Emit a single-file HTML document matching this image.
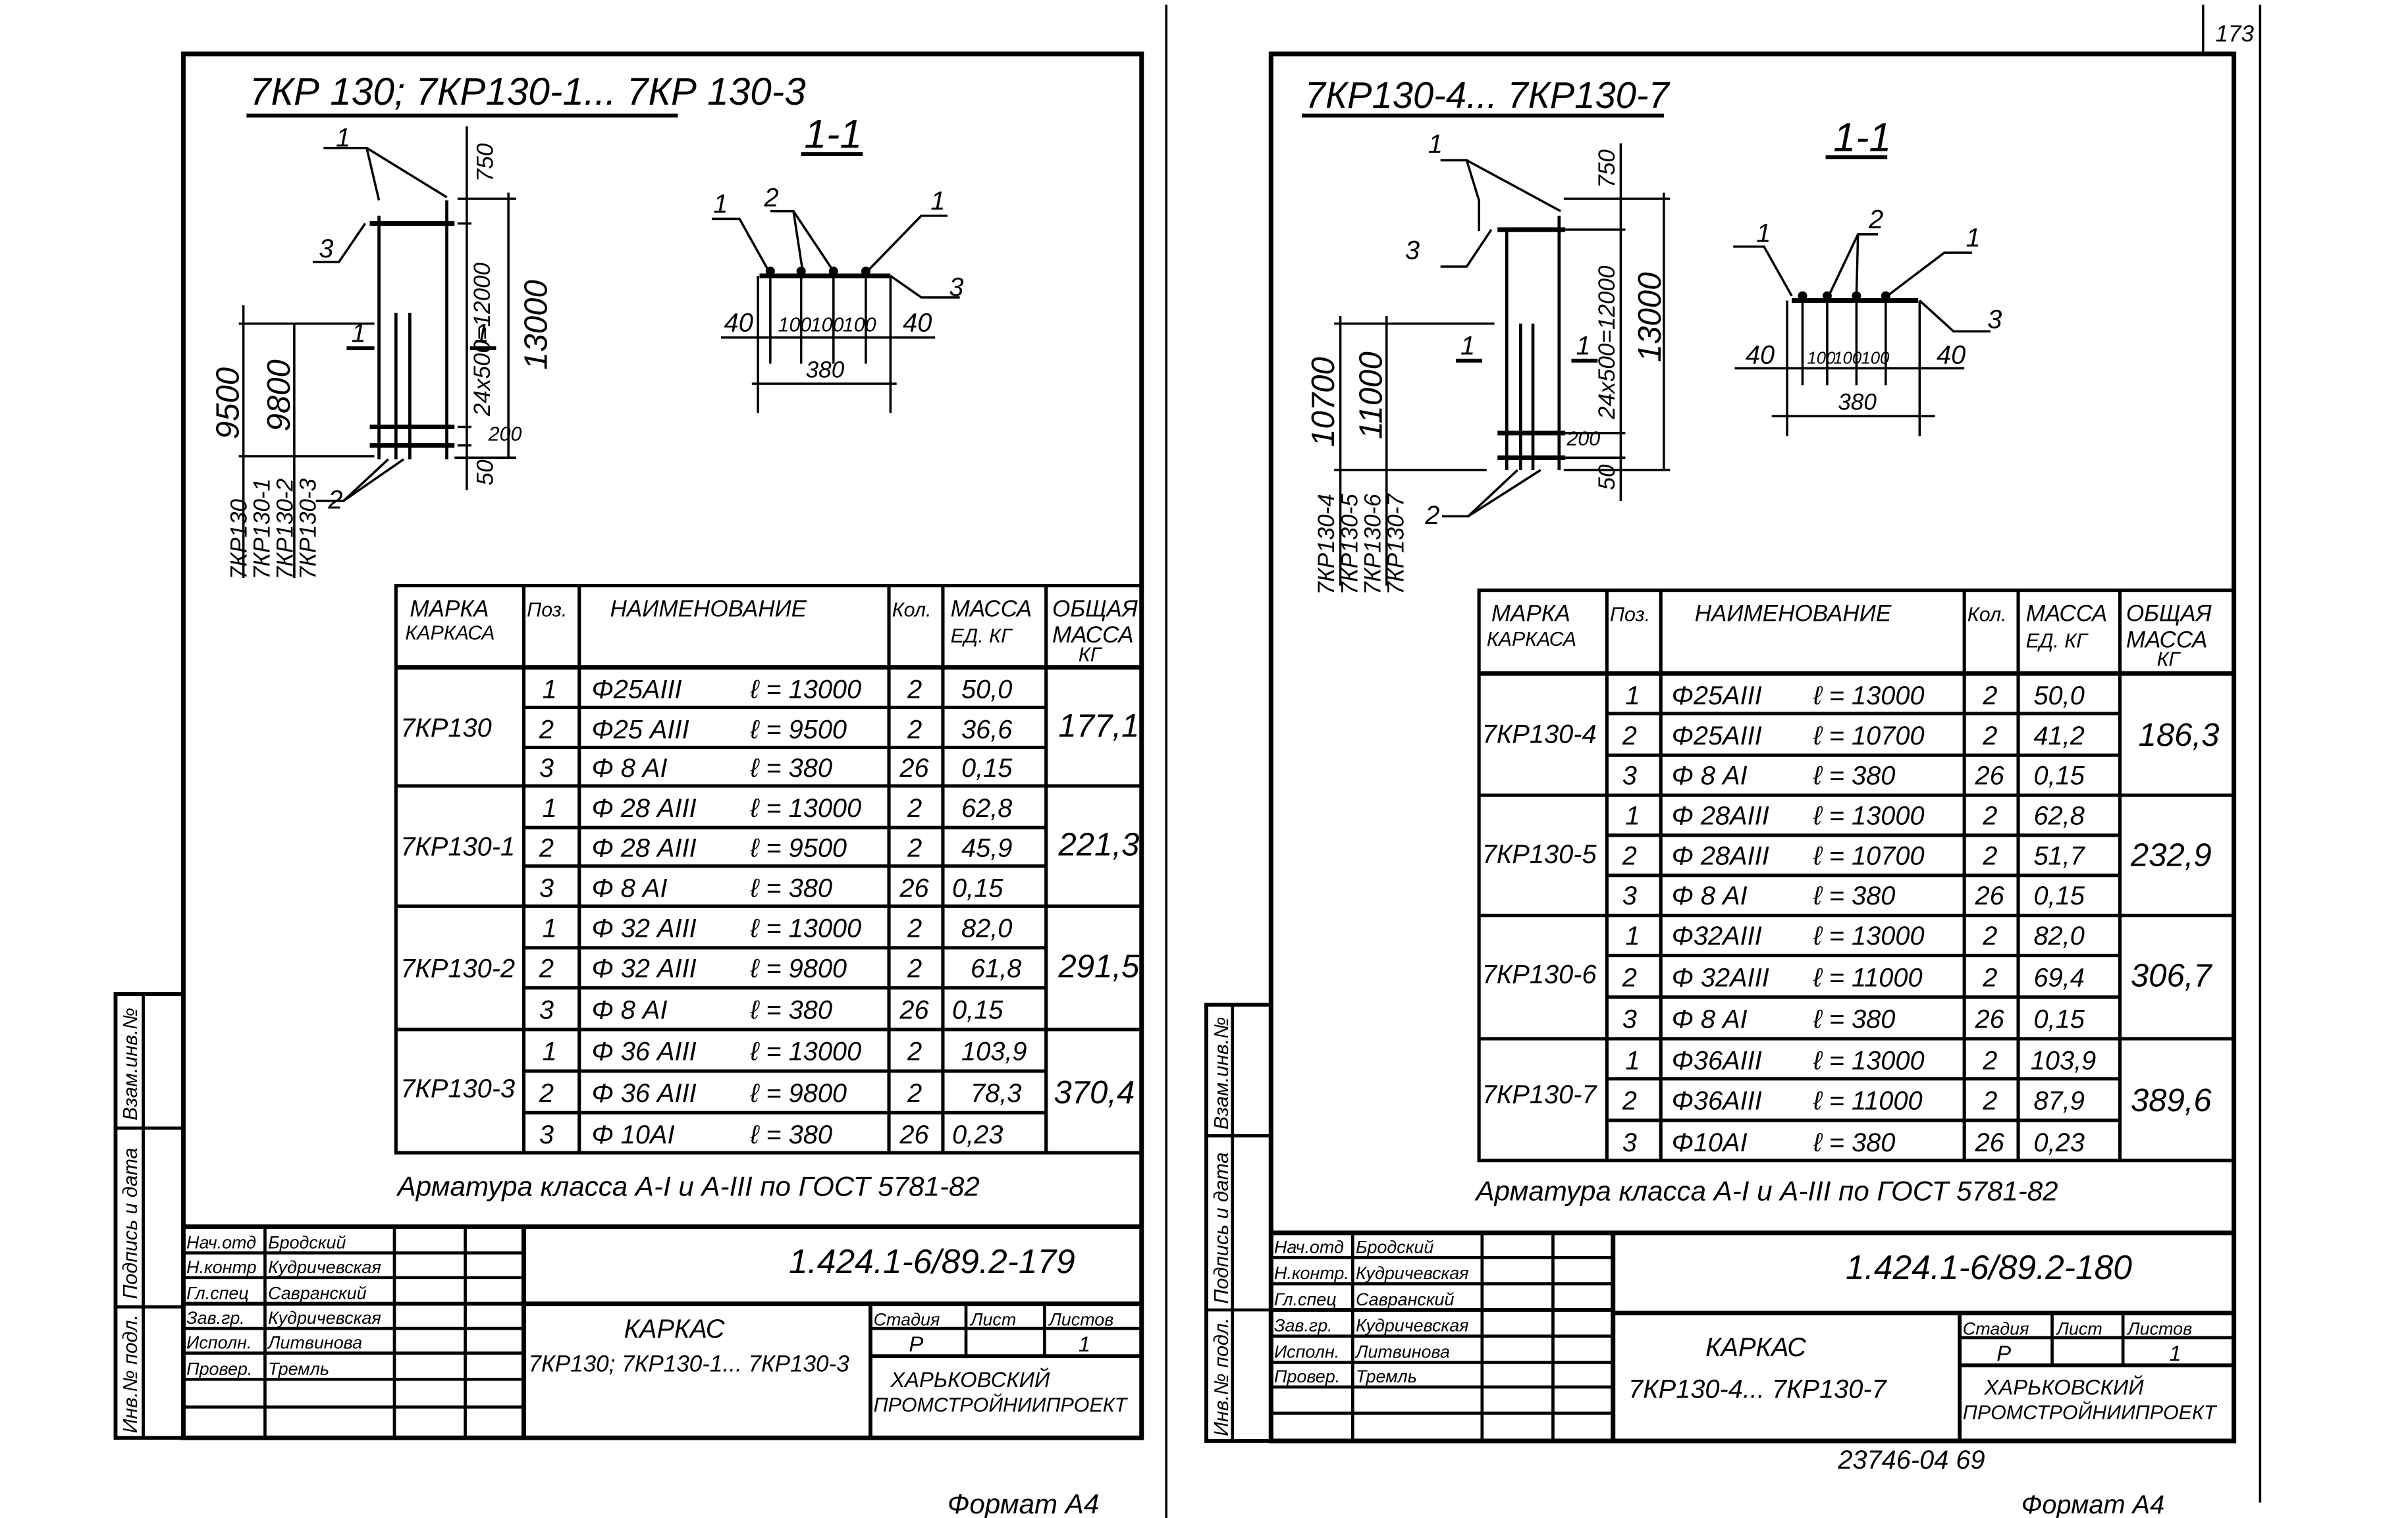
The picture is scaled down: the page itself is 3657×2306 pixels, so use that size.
<!DOCTYPE html>
<html><head><meta charset="utf-8">
<style>
html,body{margin:0;padding:0;background:#fff;}
svg{display:block;}
text{font-family:"Liberation Sans","DejaVu Sans",sans-serif;font-style:italic;fill:#000;}
.t{font-size:17px;}
.s{font-size:13px;}
.m{font-size:15px;}
.h{font-size:15px;}
.b{font-size:21px;}
</style></head>
<body>
<svg width="3657" height="2306" viewBox="0 0 1563 985" preserveAspectRatio="none" xmlns="http://www.w3.org/2000/svg">
<rect x="0" y="0" width="1563" height="985" fill="#fff"/>
<g stroke="#000" fill="none">
<line x1="757" y1="3" x2="757" y2="985" stroke-width="1.5"/>
<line x1="1467" y1="3" x2="1467" y2="975" stroke-width="1.5"/>
<line x1="1430" y1="3" x2="1430" y2="35" stroke-width="1.5"/>

<rect x="119" y="35" width="622" height="898" stroke-width="3"/>
<rect x="75" y="645" width="44" height="288" stroke-width="2.5"/>
<line x1="93" y1="645" x2="93" y2="933" stroke-width="2"/>
<line x1="75" y1="732" x2="119" y2="732" stroke-width="2"/>
<line x1="75" y1="848" x2="119" y2="848" stroke-width="2"/>

<rect x="825" y="35" width="625" height="900" stroke-width="3"/>
<rect x="783" y="652" width="42" height="283" stroke-width="2.5"/>
<line x1="800" y1="652" x2="800" y2="935" stroke-width="2"/>
<line x1="783" y1="737" x2="825" y2="737" stroke-width="2"/>
<line x1="783" y1="850" x2="825" y2="850" stroke-width="2"/>

<g stroke-width="2.2">
<rect x="257" y="380" width="484" height="368"/>
<line x1="257" y1="433" x2="741" y2="433" stroke-width="3"/>
<line x1="340" y1="380" x2="340" y2="748"/>
<line x1="376" y1="380" x2="376" y2="748"/>
<line x1="577" y1="380" x2="577" y2="748"/>
<line x1="612" y1="380" x2="612" y2="748"/>
<line x1="679" y1="380" x2="679" y2="748"/>
<line x1="340" y1="459" x2="679" y2="459"/><line x1="340" y1="485" x2="679" y2="485"/>
<line x1="257" y1="510" x2="741" y2="510"/>
<line x1="340" y1="537" x2="679" y2="537"/><line x1="340" y1="562" x2="679" y2="562"/>
<line x1="257" y1="588" x2="741" y2="588"/>
<line x1="340" y1="615" x2="679" y2="615"/><line x1="340" y1="641" x2="679" y2="641"/>
<line x1="257" y1="668" x2="741" y2="668"/>
<line x1="340" y1="695" x2="679" y2="695"/><line x1="340" y1="722" x2="679" y2="722"/>
</g>

<g stroke-width="2.2">
<rect x="960" y="383" width="490" height="370"/>
<line x1="960" y1="437" x2="1450" y2="437" stroke-width="3"/>
<line x1="1043" y1="383" x2="1043" y2="753"/>
<line x1="1078" y1="383" x2="1078" y2="753"/>
<line x1="1275" y1="383" x2="1275" y2="753"/>
<line x1="1310" y1="383" x2="1310" y2="753"/>
<line x1="1376" y1="383" x2="1376" y2="753"/>
<line x1="1043" y1="463" x2="1376" y2="463"/><line x1="1043" y1="490" x2="1376" y2="490"/>
<line x1="960" y1="516" x2="1450" y2="516"/>
<line x1="1043" y1="542" x2="1376" y2="542"/><line x1="1043" y1="568" x2="1376" y2="568"/>
<line x1="960" y1="594" x2="1450" y2="594"/>
<line x1="1043" y1="620" x2="1376" y2="620"/><line x1="1043" y1="647" x2="1376" y2="647"/>
<line x1="960" y1="674" x2="1450" y2="674"/>
<line x1="1043" y1="700" x2="1376" y2="700"/><line x1="1043" y1="727" x2="1376" y2="727"/>
</g>

<g stroke-width="2">
<line x1="119" y1="796" x2="741" y2="796" stroke-width="3"/>
<line x1="340" y1="846" x2="741" y2="846" stroke-width="3"/>
<line x1="119" y1="846" x2="340" y2="846" stroke-width="2.5"/>
<line x1="172" y1="796" x2="172" y2="933"/>
<line x1="256" y1="796" x2="256" y2="933"/>
<line x1="302" y1="796" x2="302" y2="933"/>
<line x1="340" y1="796" x2="340" y2="933" stroke-width="3"/>
<line x1="119" y1="813" x2="340" y2="813"/><line x1="119" y1="829" x2="340" y2="829"/>
<line x1="119" y1="862" x2="340" y2="862"/><line x1="119" y1="878" x2="340" y2="878"/>
<line x1="119" y1="895" x2="340" y2="895"/><line x1="119" y1="913" x2="340" y2="913"/>
<line x1="565" y1="846" x2="565" y2="933" stroke-width="2.5"/>
<line x1="565" y1="862" x2="741" y2="862"/>
<line x1="565" y1="880" x2="741" y2="880" stroke-width="2.5"/>
<line x1="627" y1="846" x2="627" y2="880"/>
<line x1="678" y1="846" x2="678" y2="880"/>
</g>

<g stroke-width="2">
<line x1="825" y1="800" x2="1450" y2="800" stroke-width="3"/>
<line x1="1047" y1="852" x2="1450" y2="852" stroke-width="3"/>
<line x1="825" y1="850" x2="1047" y2="850" stroke-width="2.5"/>
<line x1="878" y1="800" x2="878" y2="935"/>
<line x1="962" y1="800" x2="962" y2="935"/>
<line x1="1008" y1="800" x2="1008" y2="935"/>
<line x1="1047" y1="800" x2="1047" y2="935" stroke-width="3"/>
<line x1="825" y1="816" x2="1047" y2="816"/><line x1="825" y1="833" x2="1047" y2="833"/>
<line x1="825" y1="867" x2="1047" y2="867"/><line x1="825" y1="884" x2="1047" y2="884"/>
<line x1="825" y1="900" x2="1047" y2="900"/><line x1="825" y1="917" x2="1047" y2="917"/>
<line x1="1272" y1="852" x2="1272" y2="935" stroke-width="2.5"/>
<line x1="1272" y1="868" x2="1450" y2="868"/>
<line x1="1272" y1="886" x2="1450" y2="886" stroke-width="2.5"/>
<line x1="1332" y1="852" x2="1332" y2="886"/>
<line x1="1378" y1="852" x2="1378" y2="886"/>
</g>

<g stroke-width="1.5">
<line x1="160" y1="75" x2="440" y2="75" stroke-width="2.5"/>
<line x1="520" y1="100" x2="560" y2="100" stroke-width="2.5"/>
<line x1="246" y1="140" x2="246" y2="298" stroke-width="2"/>
<line x1="290" y1="130" x2="290" y2="298" stroke-width="2"/>
<line x1="257" y1="203" x2="257" y2="298" stroke-width="2"/>
<line x1="266" y1="203" x2="266" y2="298" stroke-width="2"/>
<line x1="240" y1="145" x2="295" y2="145" stroke-width="3"/>
<line x1="240" y1="277" x2="295" y2="277" stroke-width="3"/>
<line x1="240" y1="289" x2="295" y2="289" stroke-width="3"/>
<polyline points="210,96 238,96 246,130"/><line x1="238" y1="96" x2="290" y2="128"/>
<polyline points="203,170 220,170 237,145"/>
<polyline points="205,325 223,325 252,298"/><line x1="223" y1="325" x2="262" y2="298"/>
<line x1="225" y1="226" x2="243" y2="226" stroke-width="2.5"/>
<line x1="305" y1="226" x2="322" y2="226" stroke-width="2.5"/>
<line x1="303" y1="82" x2="303" y2="318"/>
<line x1="330" y1="125" x2="330" y2="297"/>
<line x1="297" y1="129" x2="335" y2="129"/>
<line x1="297" y1="145" x2="306" y2="145"/>
<line x1="297" y1="277" x2="306" y2="277"/>
<line x1="297" y1="289" x2="306" y2="289"/>
<line x1="295" y1="297" x2="335" y2="297"/>
<line x1="158" y1="198" x2="158" y2="375"/>
<line x1="191" y1="210" x2="191" y2="375"/>
<line x1="155" y1="210" x2="243" y2="210"/>
<line x1="155" y1="296" x2="243" y2="296"/>
<line x1="493" y1="179" x2="578" y2="179" stroke-width="3"/>
<line x1="500" y1="179" x2="500" y2="236"/><line x1="520" y1="179" x2="520" y2="236"/>
<line x1="541" y1="179" x2="541" y2="236"/><line x1="562" y1="179" x2="562" y2="236"/>
<line x1="492" y1="179" x2="492" y2="268"/><line x1="578" y1="179" x2="578" y2="268"/>
<line x1="468" y1="219" x2="607" y2="219"/>
<line x1="488" y1="249" x2="582" y2="249"/>
<polyline points="462,142 480,142 499,176"/>
<polyline points="500,137 515,137 521,176"/><line x1="515" y1="137" x2="541" y2="176"/>
<polyline points="615,140 598,140 563,176"/>
<polyline points="578,179 598,193 623,193"/>
</g>
<g fill="#000">
<circle cx="500" cy="176" r="2.5"/><circle cx="520" cy="176" r="2.5"/><circle cx="541" cy="176" r="2.5"/><circle cx="562" cy="176" r="2.5"/>
</g>

<g stroke-width="1.5">
<line x1="845" y1="75" x2="1080" y2="75" stroke-width="2.5"/>
<line x1="1185" y1="102" x2="1225" y2="102" stroke-width="2.5"/>
<line x1="978" y1="150" x2="978" y2="305" stroke-width="2"/>
<line x1="1012" y1="140" x2="1012" y2="305" stroke-width="2"/>
<line x1="987" y1="210" x2="987" y2="305" stroke-width="2"/>
<line x1="995" y1="210" x2="995" y2="305" stroke-width="2"/>
<line x1="972" y1="149" x2="1016" y2="149" stroke-width="3"/>
<line x1="972" y1="281" x2="1016" y2="281" stroke-width="3"/>
<line x1="972" y1="297" x2="1016" y2="297" stroke-width="3"/>
<polyline points="935,104 952,104 960,130 960,150"/><line x1="952" y1="104" x2="1013" y2="137"/>
<polyline points="935,173 952,173 968,149"/>
<polyline points="936,335 953,335 985,305"/><line x1="953" y1="335" x2="1000" y2="305"/>
<line x1="945" y1="234" x2="962" y2="234" stroke-width="2.5"/>
<line x1="1020" y1="234" x2="1037" y2="234" stroke-width="2.5"/>
<line x1="1052" y1="93" x2="1052" y2="325"/>
<line x1="1080" y1="125" x2="1080" y2="305"/>
<line x1="1015" y1="129" x2="1084" y2="129"/>
<line x1="1015" y1="149" x2="1055" y2="149"/>
<line x1="1015" y1="281" x2="1055" y2="281"/>
<line x1="1015" y1="297" x2="1055" y2="297"/>
<line x1="1015" y1="305" x2="1084" y2="305"/>
<line x1="870" y1="205" x2="870" y2="380"/>
<line x1="900" y1="205" x2="900" y2="380"/>
<line x1="866" y1="210" x2="970" y2="210"/>
<line x1="866" y1="305" x2="965" y2="305"/>
<line x1="1163" y1="195" x2="1245" y2="195" stroke-width="3"/>
<line x1="1170" y1="195" x2="1170" y2="250"/><line x1="1186" y1="195" x2="1186" y2="250"/>
<line x1="1205" y1="195" x2="1205" y2="250"/><line x1="1224" y1="195" x2="1224" y2="250"/>
<line x1="1160" y1="195" x2="1160" y2="283"/><line x1="1246" y1="195" x2="1246" y2="283"/>
<line x1="1126" y1="239" x2="1275" y2="239"/>
<line x1="1150" y1="270" x2="1256" y2="270"/>
<polyline points="1125,160 1145,160 1163,192"/>
<polyline points="1219,152 1206,152 1187,192"/><line x1="1206" y1="152" x2="1205" y2="192"/>
<polyline points="1280,164 1262,164 1225,192"/>
<polyline points="1246,195 1268,215 1292,215"/>
</g>
<g fill="#000">
<circle cx="1170" cy="192" r="2.5"/><circle cx="1186" cy="192" r="2.5"/><circle cx="1205" cy="192" r="2.5"/><circle cx="1224" cy="192" r="2.5"/>
</g>
</g>

<text x="162" y="68" font-size="25">7КР 130; 7КР130-1... 7КР 130-3</text>
<text x="522" y="96" font-size="26">1-1</text>
<text x="218" y="95" class="t">1</text>
<text x="207" y="167" class="t">3</text>
<text x="213" y="330" class="t">2</text>
<text x="228" y="222" class="t">1</text>
<text x="308" y="222" class="t">1</text>
<text class="h" transform="translate(320,118) rotate(-90)">750</text>
<text class="h" transform="translate(318,270) rotate(-90)">24x500=12000</text>
<text class="h" transform="translate(320,315) rotate(-90)">50</text>
<text x="317" y="286" class="s">200</text>
<text class="b" transform="translate(355,240) rotate(-90)">13000</text>
<text class="b" transform="translate(155,285) rotate(-90)">9500</text>
<text class="b" transform="translate(188,280) rotate(-90)">9800</text>
<text class="m" transform="translate(160,376) rotate(-90)">7КР130</text>
<text class="m" transform="translate(175,376) rotate(-90)">7КР130-1</text>
<text class="m" transform="translate(190,376) rotate(-90)">7КР130-2</text>
<text class="m" transform="translate(205,376) rotate(-90)">7КР130-3</text>
<text x="463" y="138" class="t">1</text>
<text x="496" y="134" class="t">2</text>
<text x="604" y="136" class="t">1</text>
<text x="616" y="192" class="t">3</text>
<text x="470" y="215" class="t">40</text>
<text x="505" y="215" font-size="13">100</text>
<text x="526" y="215" font-size="13">100</text>
<text x="547" y="215" font-size="13">100</text>
<text x="586" y="215" class="t">40</text>
<text x="523" y="245" class="h">380</text>

<text x="266" y="400" class="h">МАРКА</text>
<text x="263" y="415" class="s">КАРКАСА</text>
<text x="342" y="400" class="s">Поз.</text>
<text x="396" y="400" class="h">НАИМЕНОВАНИЕ</text>
<text x="579" y="400" class="s">Кол.</text>
<text x="617" y="400" class="h">МАССА</text>
<text x="617" y="417" class="s">ЕД. КГ</text>
<text x="683" y="400" class="h">ОБЩАЯ</text>
<text x="683" y="417" class="h">МАССА</text>
<text x="700" y="429" class="s">КГ</text>
<text x="260" y="478" class="t">7КР130</text>
<text x="260" y="555" class="t">7КР130-1</text>
<text x="260" y="634" class="t">7КР130-2</text>
<text x="260" y="712" class="t">7КР130-3</text>
<text x="687" y="478" class="b">177,1</text>
<text x="687" y="555" class="b">221,3</text>
<text x="687" y="634" class="b">291,5</text>
<text x="684" y="716" class="b">370,4</text>
<g>
<text x="352" y="453" class="t">1</text><text x="384" y="453" class="t">Φ25AIII</text><text x="487" y="453" class="t">ℓ = 13000</text><text x="589" y="453" class="t">2</text><text x="624" y="453" class="t">50,0</text>
<text x="350" y="479" class="t">2</text><text x="384" y="479" class="t">Φ25 AIII</text><text x="487" y="479" class="t">ℓ =  9500</text><text x="589" y="479" class="t">2</text><text x="624" y="479" class="t">36,6</text>
<text x="350" y="504" class="t">3</text><text x="384" y="504" class="t">Φ 8 AI</text><text x="487" y="504" class="t">ℓ = 380</text><text x="584" y="504" class="t">26</text><text x="624" y="504" class="t">0,15</text>
<text x="352" y="530" class="t">1</text><text x="384" y="530" class="t">Φ 28 AIII</text><text x="487" y="530" class="t">ℓ = 13000</text><text x="589" y="530" class="t">2</text><text x="624" y="530" class="t">62,8</text>
<text x="350" y="556" class="t">2</text><text x="384" y="556" class="t">Φ 28 AIII</text><text x="487" y="556" class="t">ℓ = 9500</text><text x="589" y="556" class="t">2</text><text x="624" y="556" class="t">45,9</text>
<text x="350" y="582" class="t">3</text><text x="384" y="582" class="t">Φ 8 AI</text><text x="487" y="582" class="t">ℓ = 380</text><text x="584" y="582" class="t">26</text><text x="618" y="582" class="t">0,15</text>
<text x="352" y="608" class="t">1</text><text x="384" y="608" class="t">Φ 32 AIII</text><text x="487" y="608" class="t">ℓ = 13000</text><text x="589" y="608" class="t">2</text><text x="624" y="608" class="t">82,0</text>
<text x="350" y="634" class="t">2</text><text x="384" y="634" class="t">Φ 32 AIII</text><text x="487" y="634" class="t">ℓ = 9800</text><text x="589" y="634" class="t">2</text><text x="630" y="634" class="t">61,8</text>
<text x="350" y="661" class="t">3</text><text x="384" y="661" class="t">Φ 8 AI</text><text x="487" y="661" class="t">ℓ = 380</text><text x="584" y="661" class="t">26</text><text x="618" y="661" class="t">0,15</text>
<text x="352" y="688" class="t">1</text><text x="384" y="688" class="t">Φ 36 AIII</text><text x="487" y="688" class="t">ℓ = 13000</text><text x="589" y="688" class="t">2</text><text x="624" y="688" class="t">103,9</text>
<text x="350" y="715" class="t">2</text><text x="384" y="715" class="t">Φ 36 AIII</text><text x="487" y="715" class="t">ℓ = 9800</text><text x="589" y="715" class="t">2</text><text x="630" y="715" class="t">78,3</text>
<text x="350" y="742" class="t">3</text><text x="384" y="742" class="t">Φ 10AI</text><text x="487" y="742" class="t">ℓ = 380</text><text x="584" y="742" class="t">26</text><text x="618" y="742" class="t">0,23</text>
</g>
<text x="258" y="776" font-size="18">Арматура  класса  А-I и А-III  по  ГОСТ 5781-82</text>
<g font-size="11.5">
<text x="121" y="810">Нач.отд</text><text x="174" y="810">Бродский</text>
<text x="121" y="826">Н.контр</text><text x="174" y="826">Кудричевская</text>
<text x="121" y="843">Гл.спец</text><text x="174" y="843">Савранский</text>
<text x="121" y="859">Зав.гр.</text><text x="174" y="859">Кудричевская</text>
<text x="121" y="875">Исполн.</text><text x="174" y="875">Литвинова</text>
<text x="121" y="892">Провер.</text><text x="174" y="892">Тремль</text>
<text x="567" y="860">Стадия</text><text x="630" y="860">Лист</text><text x="681" y="860">Листов</text>
</g>
<text x="590" y="877" font-size="14">Р</text><text x="700" y="877" font-size="14">1</text>
<text x="512" y="826" font-size="22">1.424.1-6/89.2-179</text>
<text x="405" y="868" font-size="17">КАРКАС</text>
<text x="343" y="890" font-size="15">7КР130; 7КР130-1... 7КР130-3</text>
<text x="578" y="900" font-size="14">ХАРЬКОВСКИЙ</text>
<text x="567" y="916" font-size="13">ПРОМСТРОЙНИИПРОЕКТ</text>
<text class="s" transform="translate(89,727) rotate(-90)">Взам.инв.№</text>
<text class="s" transform="translate(89,843) rotate(-90)">Подпись и дата</text>
<text class="s" transform="translate(89,930) rotate(-90)">Инв.№ подл.</text>
<text x="615" y="982" font-size="18">Формат А4</text>

<text x="1438" y="27" font-size="15">173</text>
<text x="847" y="70" font-size="24">7КР130-4... 7КР130-7</text>
<text x="1190" y="98" font-size="26">1-1</text>
<text x="927" y="99" class="t">1</text>
<text x="912" y="168" class="t">3</text>
<text x="925" y="340" class="t">2</text>
<text x="948" y="230" class="t">1</text>
<text x="1023" y="230" class="t">1</text>
<text class="h" transform="translate(1048,122) rotate(-90)">750</text>
<text class="h" transform="translate(1048,272) rotate(-90)">24x500=12000</text>
<text class="h" transform="translate(1048,318) rotate(-90)">50</text>
<text x="1017" y="289" class="s">200</text>
<text class="b" transform="translate(1078,235) rotate(-90)">13000</text>
<text class="b" transform="translate(866,290) rotate(-90)">10700</text>
<text class="b" transform="translate(897,285) rotate(-90)">11000</text>
<text class="m" transform="translate(866,386) rotate(-90)">7КР130-4</text>
<text class="m" transform="translate(881,386) rotate(-90)">7КР130-5</text>
<text class="m" transform="translate(896,386) rotate(-90)">7КР130-6</text>
<text class="m" transform="translate(911,386) rotate(-90)">7КР130-7</text>
<text x="1140" y="157" class="t">1</text>
<text x="1213" y="148" class="t">2</text>
<text x="1276" y="160" class="t">1</text>
<text x="1290" y="213" class="t">3</text>
<text x="1133" y="236" class="t">40</text>
<text x="1173" y="236" font-size="11">100</text>
<text x="1190" y="236" font-size="11">100</text>
<text x="1208" y="236" font-size="11">100</text>
<text x="1257" y="236" class="t">40</text>
<text x="1193" y="266" class="h">380</text>

<text x="968" y="403" class="h">МАРКА</text>
<text x="965" y="419" class="s">КАРКАСА</text>
<text x="1045" y="403" class="s">Поз.</text>
<text x="1100" y="403" class="h">НАИМЕНОВАНИЕ</text>
<text x="1277" y="403" class="s">Кол.</text>
<text x="1315" y="403" class="h">МАССА</text>
<text x="1315" y="420" class="s">ЕД. КГ</text>
<text x="1380" y="403" class="h">ОБЩАЯ</text>
<text x="1380" y="420" class="h">МАССА</text>
<text x="1400" y="432" class="s">КГ</text>
<text x="962" y="482" class="t">7КР130-4</text>
<text x="962" y="560" class="t">7КР130-5</text>
<text x="962" y="638" class="t">7КР130-6</text>
<text x="962" y="716" class="t">7КР130-7</text>
<text x="1388" y="484" class="b">186,3</text>
<text x="1383" y="562" class="b">232,9</text>
<text x="1383" y="640" class="b">306,7</text>
<text x="1383" y="721" class="b">389,6</text>
<g>
<text x="1055" y="457" class="t">1</text><text x="1085" y="457" class="t">Φ25AIII</text><text x="1177" y="457" class="t">ℓ = 13000</text><text x="1287" y="457" class="t">2</text><text x="1320" y="457" class="t">50,0</text>
<text x="1053" y="483" class="t">2</text><text x="1085" y="483" class="t">Φ25AIII</text><text x="1177" y="483" class="t">ℓ = 10700</text><text x="1287" y="483" class="t">2</text><text x="1320" y="483" class="t">41,2</text>
<text x="1053" y="509" class="t">3</text><text x="1085" y="509" class="t">Φ 8 AI</text><text x="1177" y="509" class="t">ℓ = 380</text><text x="1282" y="509" class="t">26</text><text x="1320" y="509" class="t">0,15</text>
<text x="1055" y="535" class="t">1</text><text x="1085" y="535" class="t">Φ 28AIII</text><text x="1177" y="535" class="t">ℓ = 13000</text><text x="1287" y="535" class="t">2</text><text x="1320" y="535" class="t">62,8</text>
<text x="1053" y="561" class="t">2</text><text x="1085" y="561" class="t">Φ 28AIII</text><text x="1177" y="561" class="t">ℓ = 10700</text><text x="1287" y="561" class="t">2</text><text x="1320" y="561" class="t">51,7</text>
<text x="1053" y="587" class="t">3</text><text x="1085" y="587" class="t">Φ 8 AI</text><text x="1177" y="587" class="t">ℓ = 380</text><text x="1282" y="587" class="t">26</text><text x="1320" y="587" class="t">0,15</text>
<text x="1055" y="613" class="t">1</text><text x="1085" y="613" class="t">Φ32AIII</text><text x="1177" y="613" class="t">ℓ = 13000</text><text x="1287" y="613" class="t">2</text><text x="1320" y="613" class="t">82,0</text>
<text x="1053" y="640" class="t">2</text><text x="1085" y="640" class="t">Φ 32AIII</text><text x="1177" y="640" class="t">ℓ = 11000</text><text x="1287" y="640" class="t">2</text><text x="1320" y="640" class="t">69,4</text>
<text x="1053" y="667" class="t">3</text><text x="1085" y="667" class="t">Φ 8 AI</text><text x="1177" y="667" class="t">ℓ = 380</text><text x="1282" y="667" class="t">26</text><text x="1320" y="667" class="t">0,15</text>
<text x="1055" y="694" class="t">1</text><text x="1085" y="694" class="t">Φ36AIII</text><text x="1177" y="694" class="t">ℓ = 13000</text><text x="1287" y="694" class="t">2</text><text x="1318" y="694" class="t">103,9</text>
<text x="1053" y="720" class="t">2</text><text x="1085" y="720" class="t">Φ36AIII</text><text x="1177" y="720" class="t">ℓ = 11000</text><text x="1287" y="720" class="t">2</text><text x="1320" y="720" class="t">87,9</text>
<text x="1053" y="747" class="t">3</text><text x="1085" y="747" class="t">Φ10AI</text><text x="1177" y="747" class="t">ℓ = 380</text><text x="1282" y="747" class="t">26</text><text x="1320" y="747" class="t">0,23</text>
</g>
<text x="958" y="779" font-size="18">Арматура  класса  А-I и А-III  по ГОСТ 5781-82</text>
<g font-size="11.5">
<text x="827" y="813">Нач.отд</text><text x="880" y="813">Бродский</text>
<text x="827" y="830">Н.контр.</text><text x="880" y="830">Кудричевская</text>
<text x="827" y="847">Гл.спец</text><text x="880" y="847">Савранский</text>
<text x="827" y="864">Зав.гр.</text><text x="880" y="864">Кудричевская</text>
<text x="827" y="881">Исполн.</text><text x="880" y="881">Литвинова</text>
<text x="827" y="897">Провер.</text><text x="880" y="897">Тремль</text>
<text x="1274" y="866">Стадия</text><text x="1335" y="866">Лист</text><text x="1381" y="866">Листов</text>
</g>
<text x="1296" y="883" font-size="14">Р</text><text x="1408" y="883" font-size="14">1</text>
<text x="1198" y="830" font-size="22">1.424.1-6/89.2-180</text>
<text x="1107" y="880" font-size="17">КАРКАС</text>
<text x="1057" y="907" font-size="17">7КР130-4... 7КР130-7</text>
<text x="1288" y="905" font-size="14">ХАРЬКОВСКИЙ</text>
<text x="1274" y="921" font-size="13">ПРОМСТРОЙНИИПРОЕКТ</text>
<text class="s" transform="translate(797,733) rotate(-90)">Взам.инв.№</text>
<text class="s" transform="translate(797,846) rotate(-90)">Подпись и дата</text>
<text class="s" transform="translate(797,932) rotate(-90)">Инв.№ подл.</text>
<text x="1193" y="953" font-size="17">23746-04  69</text>
<text x="1312" y="982" font-size="17">Формат А4</text>
</svg>
</body></html>
